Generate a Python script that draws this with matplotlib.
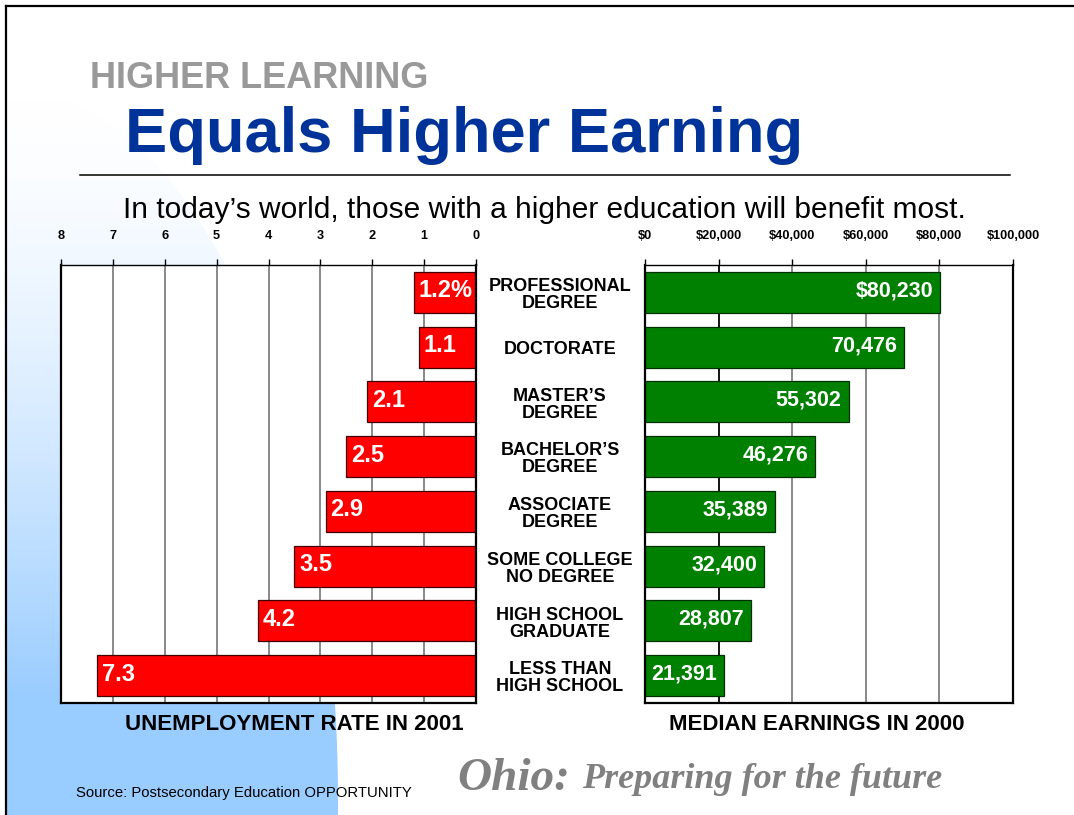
import matplotlib
matplotlib.use("Agg")
import matplotlib.pyplot as plt
import numpy as np
from matplotlib import font_manager
from matplotlib.patches import PathPatch
from matplotlib.path import Path
from matplotlib.transforms import blended_transform_factory

# data
levels = ["PROFESSIONAL\nDEGREE", "DOCTORATE", "MASTER’S\nDEGREE", "BACHELOR’S\nDEGREE",
          "ASSOCIATE\nDEGREE", "SOME COLLEGE\nNO DEGREE", "HIGH SCHOOL\nGRADUATE",
          "LESS THAN\nHIGH SCHOOL"]
unemployment = [1.2, 1.1, 2.1, 2.5, 2.9, 3.5, 4.2, 7.3]
earnings = [80230, 70476, 55302, 46276, 35389, 32400, 28807, 21391]
rate_ticks = [8, 7, 6, 5, 4, 3, 2, 1, 0]
earn_ticks = [0, 20000, 40000, 60000, 80000, 100000]
earn_tick_labels = ["$0", "$20,000", "$40,000", "$60,000", "$80,000", "$100,000"]

installed = {f.name for f in font_manager.fontManager.ttflist}
if "Liberation Sans Narrow" in installed:
    NARROW, HAS_NARROW = "Liberation Sans Narrow", True
else:
    NARROW, HAS_NARROW = "Liberation Sans", False
SANS = "Liberation Sans"
SERIF = "Liberation Serif"

W, H = 1074, 815
fig = plt.figure(figsize=(W / 100, H / 100), dpi=100)

# background layer in pixel coordinates
bg = fig.add_axes([0, 0, 1, 1], zorder=0)
bg.set_xlim(0, W)
bg.set_ylim(H, 0)
bg.axis("off")

# blue swoosh bottom left
t = np.linspace(np.pi / 2, 0, 80)
cx, cy, a, b = 6, 800, 332, 712
pts = [(cx + a * np.cos(v), cy - b * np.sin(v)) for v in t]
pts += [(338, H), (6, H), pts[0]]
clip = PathPatch(Path(pts), facecolor="none", edgecolor="none")
bg.add_patch(clip)
frac = np.clip((np.linspace(0, H, 256) - 100) / 600, 0, 1) ** 1.5
top = np.array([1.0, 1.0, 1.0])
bot = np.array([153, 204, 255]) / 255
grad = (top[None, :] * (1 - frac[:, None]) + bot[None, :] * frac[:, None])[:, None, :]
im = bg.imshow(grad, extent=[0, W, H, 0], aspect="auto", zorder=0)
im.set_clip_path(clip)

# slide border and title rule
bg.plot([6, 6], [6, H], color="black", lw=1.6)
bg.plot([6, W], [6, 6], color="black", lw=1.6)
bg.plot([80, 1010], [175, 175], color="black", lw=1.1)

bg.text(90, 88, "HIGHER LEARNING", fontsize=26, fontweight="bold", color="#999999",
        family=SANS, va="baseline")
bg.text(125, 152, "Equals Higher Earning", fontsize=45.5, fontweight="bold", color="#003399",
        family=SANS, va="baseline")
bg.text(123, 218, "In today’s world, those with a higher education will benefit most.",
        fontsize=21.5, color="black", family=SANS, va="baseline")

title_size = 17 if HAS_NARROW else 16
bg.text(294, 725, "UNEMPLOYMENT RATE IN 2001", fontsize=title_size,
        fontweight="bold", family=NARROW, ha="center", va="center")
bg.text(817, 725, "MEDIAN EARNINGS IN 2000", fontsize=title_size,
        fontweight="bold", family=NARROW, ha="center", va="center")

bg.text(76, 797, "Source: Postsecondary Education OPPORTUNITY", fontsize=10.7,
        family=SANS, va="baseline")
bg.text(457, 790, "Ohio:", fontsize=34, fontweight="bold", style="italic",
        color="#808080", family=SERIF, va="baseline")
bg.text(582, 788, "Preparing for the future", fontsize=26, fontweight="bold",
        style="italic", color="#808080", family=SERIF, va="baseline")

# chart panels
top_px, bot_px = 265, 703
y0 = 1 - bot_px / H
hh = (bot_px - top_px) / H
ax_l = fig.add_axes([61 / W, y0, (476 - 61) / W, hh], zorder=2)
ax_r = fig.add_axes([645 / W, y0, (1013 - 645) / W, hh], zorder=2)

pos = np.arange(len(levels))


def style_panel(ax, ticks, ticklabels):
    ax.set_ylim(len(levels) - 0.5, -0.5)
    ax.set_facecolor("white")
    ax.set_axisbelow(True)
    ax.grid(axis="x", color="#808080", lw=1.3)
    ax.set_yticks([])
    ax.set_xticks(ticks)
    ax.set_xticklabels(ticklabels)
    ax.xaxis.tick_top()
    ax.tick_params(axis="x", length=4.5, width=1, pad=12, labelsize=9.2)
    for lab in ax.get_xticklabels():
        lab.set_fontweight("bold")
        lab.set_family(NARROW)
    for side in ["left", "right", "bottom"]:
        ax.spines[side].set_linewidth(1.6)
        ax.spines[side].set_color("black")
    ax.spines["top"].set_linewidth(1.0)


# unemployment (left, reversed)
ax_l.barh(pos, unemployment, height=0.75, color="#ff0000", edgecolor="#400000", lw=0.9)
ax_l.set_xlim(8, 0)
style_panel(ax_l, rate_ticks, [str(v) for v in rate_ticks])
for i, v in enumerate(unemployment):
    lab = f"{v}%" if i == 0 else f"{v}"
    ax_l.annotate(lab, (v, i), xytext=(3.5, 1), textcoords="offset points",
                  ha="left", va="center", color="white", fontsize=17,
                  fontweight="bold", family=SANS)

# earnings (right)
ax_r.barh(pos, earnings, height=0.75, color="#008000", edgecolor="#003000", lw=0.9)
ax_r.set_xlim(0, 100000)
style_panel(ax_r, earn_ticks, earn_tick_labels)
ax_r.get_xgridlines()[1].set_color("black")
for i, v in enumerate(earnings):
    lab = f"${v:,}" if i == 0 else f"{v:,}"
    ax_r.annotate(lab, (v, i), xytext=(-5, 1), textcoords="offset points",
                  ha="right", va="center", color="white",
                  fontsize=18 if HAS_NARROW else 15.5,
                  fontweight="bold", family=NARROW)

# category labels between the panels
tr = blended_transform_factory(fig.transFigure, ax_l.transData)
for i, name in enumerate(levels):
    ax_l.text(560 / W, i + 0.05, name, transform=tr, ha="center", va="center",
              fontsize=13, fontweight="bold", family=SANS, linespacing=1.0,
              clip_on=False)

fig.savefig("out.png", dpi=100)
